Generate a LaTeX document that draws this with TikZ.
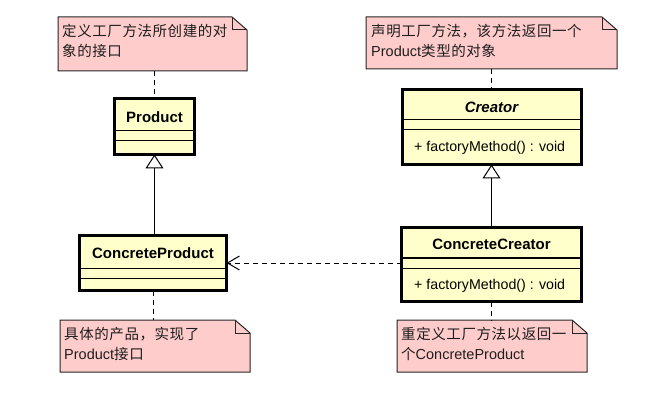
\documentclass[tikz,border=0pt]{standalone}
\usepackage{fontspec}
\setmainfont{Liberation Sans}
\newfontfamily\cjk[LetterSpace=4]{Noto Sans CJK SC}
\usetikzlibrary{arrows.meta}
\definecolor{notepink}{RGB}{255,204,204}
\definecolor{classyellow}{RGB}{255,255,204}
\definecolor{notetextc}{RGB}{30,30,30}
\begin{document}
\begin{tikzpicture}[x=1pt,y=-1pt,
  classbox/.style={draw=black, fill=classyellow, line width=3pt, outer sep=0pt, inner sep=0pt},
  sepline/.style={draw=black, line width=1pt},
  notebox/.style={draw=none, outer sep=0pt, inner sep=0pt},
  noteshape/.style={draw=black!85, fill=notepink, line width=1pt},
  notetext/.style={anchor=north west, inner sep=0pt, align=left, text=notetextc, font=\fontsize{14.5}{20}\selectfont},
  ctitle/.style={font=\bfseries\fontsize{15}{17}\selectfont, inner sep=0pt},
  cmethod/.style={anchor=west, font=\fontsize{14.2}{17}\selectfont, inner sep=0pt},
  notelink/.style={draw=black, line width=1pt, dash pattern=on 5pt off 4pt},
  inherit/.style={draw=black, line width=1pt, -{Triangle[open, width=18pt, length=14pt, fill=white]}},
  depend/.style={draw=black, line width=1pt, dash pattern=on 5pt off 4pt, -{Straight Barb[length=12pt, width=14pt]}},
]
\fill[white] (0,0) rectangle (656,406);
\useasboundingbox (0,0) rectangle (656,406);

% notes
\foreach \n/\cx/\cy/\w/\h in {n1/152.5/44/189/54, n2/491.5/43/251/52, n3/155/346/190/52, n4/492/346/190/52}{
  \node[notebox, minimum width=\w pt, minimum height=\h pt] (\n) at (\cx,\cy) {};
  \path[noteshape] (\n.south west) -- (\n.north west) -- ([xshift=-15pt]\n.north east)
     -- ([yshift=-13pt]\n.north east) -- (\n.south east) -- cycle;
  \draw[black!85, line width=1pt] ([xshift=-15pt]\n.north east) |- ([yshift=-13pt]\n.north east);
}
\node[notetext] (n1t) at (62,24.5) {{\cjk 定义工厂方法所创建的对}\\{\cjk 象的接口}};
\node[notetext] (n2t) at (371,24.5) {{\cjk 声明工厂方法，该方法返回一个}\\Product{\cjk 类型的对象}};
\node[notetext] (n3t) at (64,327.5) {{\cjk 具体的产品，实现了}\\Product{\cjk 接口}};
\node[notetext] (n4t) at (401,327.5) {{\cjk 重定义工厂方法以返回一}\\{\cjk 个}ConcreteProduct};

% classes
\node[classbox, minimum width=80pt, minimum height=56pt] (product) at (154.5,126.5) {};
\draw[sepline] (product.west |- 0,131) -- (product.east |- 0,131);
\draw[sepline] (product.west |- 0,141) -- (product.east |- 0,141);
\node[ctitle] (productT) at (154.5,117) {Product};

\node[classbox, minimum width=179pt, minimum height=75pt] (creator) at (491.5,127) {};
\draw[sepline] (creator.west |- 0,120) -- (creator.east |- 0,120);
\draw[sepline] (creator.west |- 0,130) -- (creator.east |- 0,130);
\node[ctitle, font=\bfseries\itshape\fontsize{15}{17}\selectfont] (creatorT) at (491.5,107.5) {Creator};
\node[cmethod] (creatorM) at (414,148) {+ factoryMethod() : void};

\node[classbox, minimum width=147pt, minimum height=55pt] (cproduct) at (153,263) {};
\draw[sepline] (cproduct.west |- 0,268) -- (cproduct.east |- 0,268);
\draw[sepline] (cproduct.west |- 0,278) -- (cproduct.east |- 0,278);
\node[ctitle] (cproductT) at (153,253.5) {ConcreteProduct};

\node[classbox, minimum width=180pt, minimum height=74pt] (ccreator) at (491.5,264.5) {};
\draw[sepline] (ccreator.west |- 0,258) -- (ccreator.east |- 0,258);
\draw[sepline] (ccreator.west |- 0,268) -- (ccreator.east |- 0,268);
\node[ctitle] (ccreatorT) at (491.5,244.5) {ConcreteCreator};
\node[cmethod] (ccreatorM) at (414,285.5) {+ factoryMethod() : void};

% connectors
\draw[notelink] (product.north |- n1.south) -- (product.north);
\draw[notelink] (creator.north |- n2.south) -- (creator.north);
\draw[inherit] (cproduct.north -| product.south) -- (product.south);
\draw[inherit] (ccreator.north -| creator.south) -- (creator.south);
\draw[depend] (cproduct.east -| ccreator.west) -- (cproduct.east);
\draw[notelink] (cproduct.south) -- (cproduct.south |- n3.north);
\draw[notelink] (ccreator.south) -- (ccreator.south |- n4.north);
\end{tikzpicture}
\end{document}
